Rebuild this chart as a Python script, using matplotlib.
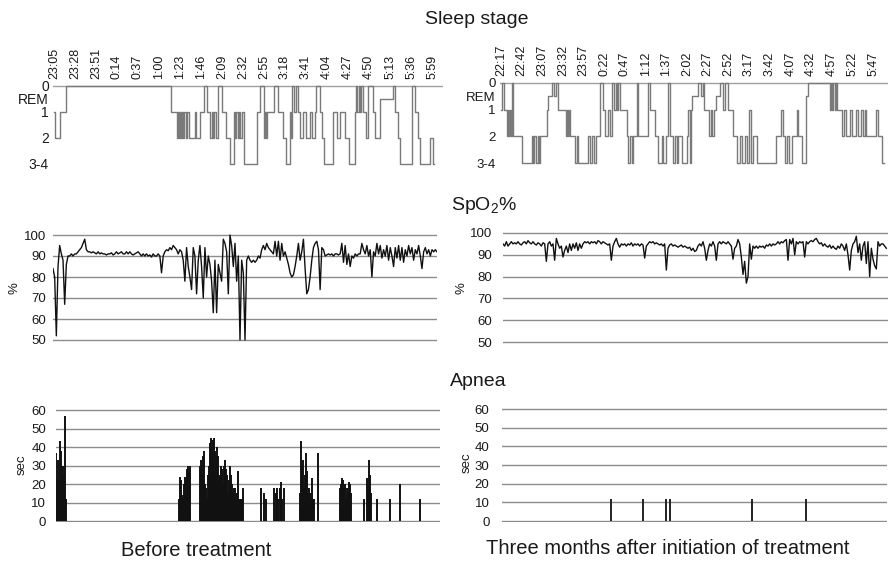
import numpy as np
import matplotlib
matplotlib.use('Agg')
import matplotlib.pyplot as plt

plt.rcParams['font.family'] = ['Liberation Sans', 'DejaVu Sans']
plt.rcParams['mathtext.fontset'] = 'custom'
plt.rcParams['mathtext.rm'] = 'Liberation Sans'
plt.rcParams['mathtext.default'] = 'regular'
plt.rcParams['text.color'] = '#1a1a1a'
plt.rcParams['xtick.color'] = '#1a1a1a'
plt.rcParams['ytick.color'] = '#1a1a1a'

# ---- data -----------------------------------------------------------------
# sleep stage codes: 0 = awake, 0.5 = REM, 1, 2, 3 = stage 3-4
stage_pos = [0, 0.5, 1, 2, 3]
stage_labels = ['0', 'REM', '1', '2', '3-4']

# before treatment (minutes after 23:05)
labels_before = ['23:05', '23:28', '23:51', '0:14', '0:37', '1:00', '1:23', '1:46', '2:09', '2:32',
                 '2:55', '3:18', '3:41', '4:04', '4:27', '4:50', '5:13', '5:36', '5:59']
sleep_before_t = [0, 1.4, 6.9, 13.1, 128.5, 134.3, 135.4, 136.5, 137.6, 138.7,
                  139.8, 140.8, 142.3, 144.5, 146, 147.4, 154, 155.4, 159.4, 164.1,
                  167.8, 171.4, 172.9, 174.3, 175.8, 177.2, 179.4, 184.2, 188.9, 193.3,
                  196.9, 198.4, 199.8, 201.3, 202.7, 204.2, 205.6, 208.5, 222.4, 226,
                  229.7, 230.4, 231.5, 232.6, 233.7, 241.3, 245, 250.8, 254.4, 258.1,
                  259.5, 261, 263.1, 264.6, 267.5, 269.7, 272.6, 275.5, 279.9, 282.4,
                  285.7, 287.2, 290.8, 293.7, 295.2, 305.4, 309.7, 313.4, 319.2, 323.6,
                  329.4, 330.9, 332.3, 333.8, 335.2, 336.7, 338.9, 341.8, 344.3, 349.1,
                  351.6, 357.1, 371.6, 373.4, 377.1, 378.9, 391.6, 395.3, 398.9, 400.7,
                  411.7, 414.6, 416]
sleep_before = [1, 2, 1, 0, 1, 2, 1, 2, 1, 2,
                1, 2, 1, 2, 1, 2, 1, 2, 1, 0,
                1, 2, 1, 2, 1, 2, 0, 1, 2, 3,
                1, 2, 1, 2, 1, 2, 1, 3, 1, 0,
                1, 2, 1, 2, 1, 0, 1, 2, 3, 1,
                2, 0, 1, 0, 1, 2, 1, 2, 1, 2,
                1, 0, 1, 2, 3, 1, 2, 1, 2, 3,
                1, 0, 1, 0, 1, 0, 1, 2, 0, 1,
                2, 0.5, 0, 1, 2, 3, 0, 1, 2, 3,
                2, 3, 3]

# three months after (minutes after 22:17)
labels_after = ['22:17', '22:42', '23:07', '23:32', '23:57', '0:22', '0:47', '1:12', '1:37', '2:02',
                '2:27', '2:52', '3:17', '3:42', '4:07', '4:32', '4:57', '5:22', '5:47']
sleep_after_t = [0, 1, 4.4, 7.2, 8.5, 9.7, 10.9, 12.1, 13.7, 15.3,
                 25.4, 37.4, 39, 40.7, 42.3, 44.7, 46.3, 47.9, 55.5, 57.6,
                 61.6, 64.8, 66.8, 68.8, 78.5, 79.7, 80.9, 82.1, 83.3, 89.8,
                 92.2, 93.8, 105.9, 107.9, 109.9, 112.7, 114.7, 119.9, 124, 126,
                 130, 132, 134, 137.3, 138.9, 140.5, 141.7, 144.1, 152.1, 154.2,
                 155.8, 158.2, 159.8, 164.2, 166.2, 178.3, 180.7, 186.4, 190.4, 194.4,
                 196.4, 199.2, 202.5, 204.9, 208.5, 210.5, 212.5, 214.5, 218.6, 224.6,
                 226.6, 228.2, 229.8, 230.6, 238.7, 241.5, 243.9, 245.5, 252, 253.6,
                 255.2, 257.6, 260, 264.8, 268.9, 270.9, 274.9, 280.9, 285, 289,
                 291, 295, 297.9, 299.5, 301.9, 304.3, 309.1, 332.5, 338.1, 340.5,
                 343.7, 346.2, 348.6, 351.4, 357.4, 359.8, 363.5, 368.7, 371.5, 397.7,
                 398.9, 400.5, 402.1, 403.7, 404.9, 406.5, 413, 414.6, 417, 421.8,
                 424.2, 429.9, 432.3, 435.9, 437.9, 439.9, 442, 454, 456.1, 461.3,
                 462.9]
sleep_after = [1, 0, 1, 2, 1, 2, 1, 2, 0, 2,
               3, 2, 3, 2, 3, 2, 3, 2, 1, 0.5,
               0, 0.5, 0, 1, 2, 1, 2, 1, 2, 3,
               2, 3, 2, 3, 2, 3, 2, 0, 1, 2,
               1, 2, 0, 1, 0, 1, 0, 1, 2, 3,
               2, 3, 2, 0, 2, 0, 1, 2, 3, 2,
               3, 2, 0, 2, 3, 2, 3, 2, 3, 2,
               1, 3, 1, 0.5, 0, 0.5, 0, 1, 2, 1,
               2, 1, 0.5, 0, 1, 0, 1, 2, 3, 2,
               3, 2, 3, 1, 3, 2, 3, 2, 1, 2,
               3, 2, 3, 2, 1, 2, 3, 0.5, 0, 1,
               0, 1, 0, 1, 0, 1, 2, 1, 2, 1,
               2, 1, 2, 1, 2, 1, 2, 1, 2, 3,
               3]

# SpO2 (%), evenly sampled through the night
spo2_before = [84, 80, 52, 85, 95, 91, 88, 67, 86, 90,
               90, 91, 90, 91, 91, 92, 93, 94, 96, 98,
               93, 92, 92, 91.5, 92, 91.5, 91, 92, 91, 91.5,
               91, 91, 90.5, 91, 91, 91.5, 90.5, 91, 92, 91,
               91.5, 92, 91, 91, 92, 91, 92, 91, 90.5, 91,
               91.5, 92, 91, 90, 91, 90, 91, 90, 90.5, 89.5,
               91, 90, 90, 91, 90, 82, 90, 92, 93, 92.5,
               94, 93, 95, 94, 93, 91, 93, 92, 88, 78,
               94, 85, 80, 74, 94, 90, 72, 88, 95, 85,
               70, 94, 80, 90, 86, 78, 63, 88, 63, 86,
               82, 78, 98, 96, 92, 72, 100, 95, 85, 96,
               78, 90, 50, 88, 82, 50, 88, 90, 88, 87,
               88, 87, 88, 90, 89, 93, 95, 93, 96, 94,
               93, 92, 91, 97, 90, 97, 88, 96, 90, 92,
               89, 86, 82, 80, 81, 85, 90, 96, 88, 92,
               98, 84, 72, 74, 80, 88, 94, 96, 97, 93,
               74, 94, 93, 90, 90.5, 91, 90.5, 91, 90, 91,
               91, 90.5, 91, 96, 87, 95, 86, 91, 85, 90,
               89, 91, 90, 91, 91, 96, 93, 91, 95, 90,
               93, 80, 92, 90, 96, 91, 95, 89, 93, 90,
               95, 88, 94, 90, 85, 94, 89, 95, 88, 94,
               87, 93, 90, 95, 91, 94, 88, 93, 91, 95,
               90, 84, 92, 94, 91, 93, 90, 93, 92, 93,
               92]
spo2_after = [95, 94, 96, 94, 95, 96, 95, 95.5, 95, 96,
              95, 94.5, 95.5, 96, 95, 96.5, 95.5, 95, 96, 95,
              94.5, 95.5, 95, 94, 95.5, 95, 87, 95, 96, 94,
              95, 87.5, 97.5, 95, 93, 94, 89, 92, 94, 91,
              95, 92, 95, 93, 95.5, 92, 95, 93, 95, 96,
              95.5, 96, 95, 96, 95.5, 96, 95, 96.5, 96, 95,
              96, 95.5, 95, 94.5, 95, 87.5, 94, 96, 97.5, 95,
              93.5, 95, 94.5, 95, 94, 95, 94.5, 95.5, 94, 95,
              94.5, 95, 94, 95, 94.5, 88.5, 94, 95, 96, 95.5,
              96, 95, 95.5, 95, 94.5, 95, 94, 95, 83, 93,
              94.5, 95, 94, 94.5, 94, 93.5, 94, 94.5, 93.5, 94,
              93.5, 93, 93.5, 92, 93, 91.5, 92, 94, 95, 94,
              96, 93, 87.5, 92, 95, 94, 96, 94, 87.5, 95,
              96, 95, 96, 95.5, 95, 96, 95, 94, 88, 93,
              94, 97, 95, 89, 81, 87, 77, 80, 95, 88,
              94, 93, 94, 93, 94, 93.5, 94, 93, 94.5, 94,
              95, 94, 95, 94.5, 95, 96, 95, 96, 95.5, 96.5,
              97, 87.5, 97, 95, 97.5, 90, 96, 95, 96, 95.5,
              96, 89, 96, 95, 96, 96.5, 96, 97, 97.5, 96,
              95, 95.5, 94, 95, 94, 93.5, 94.5, 93, 94, 93,
              92.5, 94, 93, 95, 94, 92, 95, 90, 83, 92,
              95, 96, 98.5, 91, 95, 87.5, 94, 96, 86, 96,
              80, 93, 88, 85, 83.5, 96, 94, 95, 95, 94,
              93]

# apnea events: time (min) and duration (sec)
apnea_before_t = [0, 1.1, 2.2, 3.3, 4.4, 5.5, 6.6, 7.6, 8.7, 9.8, 10.9,
                  133.6, 134.7, 135.8, 136.9, 138, 139, 140.1, 141.2, 142.3, 143.4, 144.5, 145.6,
                  157.2, 158.3, 159.4, 160.5, 161.6, 162.7, 163.8, 164.8, 165.9, 167.0,
                  168.1, 169.2, 170.3, 171.4, 172.5, 173.6, 174.7, 175.8, 176.9, 178.0,
                  179.0, 180.1, 181.2, 182.3, 183.4, 184.5, 185.6, 186.7, 187.8, 188.9,
                  190.0, 191.1, 192.2, 193.2, 194.3, 195.4, 196.5, 197.6, 198.7, 199.8,
                  200.9, 202.0, 203.1, 204.2,
                  223.9, 227.1, 229,
                  238.1, 239.5, 240.9, 242.4, 243.9, 245.3, 246.8, 248.2,
                  266.4, 267.5, 268.6, 269.7, 270.8, 271.9, 273, 274.1, 275.2, 276.3,
                  277.4, 278.5, 279.6, 280.7, 281.7, 285.4,
                  310.1, 311.2, 312.3, 313.4, 314.5, 315.6, 316.7, 317.8, 318.9, 320, 321, 322.1,
                  335.6, 339.2, 340.3, 341.4, 342.5, 343.6, 350.2, 364.7, 374.9, 396.8]
apnea_before = [37, 22, 33, 22, 43, 38, 30, 25, 30, 57, 12,
                12, 24, 22, 14, 12, 20, 24, 22, 28, 30, 26, 30,
                30, 33, 25, 35, 38, 20, 18, 12, 25, 30,
                42, 45, 38, 44, 45, 38, 35, 40, 35, 22,
                25, 30, 28, 20, 30, 33, 28, 25, 15, 22,
                30, 25, 20, 15, 18, 18, 12, 15, 27, 12,
                12, 12, 12, 18,
                18, 15, 12,
                18, 15, 18, 12, 18, 21, 12, 18,
                15, 43, 30, 33, 18, 25, 37, 27, 15, 18,
                15, 12, 23, 12, 12, 37,
                18, 20, 23, 22, 18, 20, 12, 18, 15, 21, 20, 15,
                12, 23, 20, 33, 25, 15, 12, 12, 20, 12]
apnea_after_t = [132.8, 171.9, 199.2, 204.1, 303.9, 369.5]
apnea_after = [12, 12, 12, 12, 12, 12]

# ---- figure ---------------------------------------------------------------
fig = plt.figure(figsize=(8.89, 5.61), dpi=100)
W, H = 889.0, 561.0


def box(x0, y0, x1, y1):
    # pixel box (top-left origin) -> figure fraction
    return [x0 / W, 1 - y1 / H, (x1 - x0) / W, (y1 - y0) / H]


def px_text(x, y, s, **kw):
    fig.text(x / W, 1 - y / H, s, **kw)


grid_col = '#8c8c8c'
hyp_col = '#7a7a7a'


def hypnogram(ax, t, s, labels, step, xmax, fs_y, pad_x):
    ax.step(t, s, where='post', color=hyp_col, lw=1.0)
    ax.axhline(0, color='#a0a0a0', lw=1.0, zorder=0)
    ax.set_ylim(3.1, -0.1)
    ax.set_xlim(-1, xmax)
    ax.set_yticks(stage_pos)
    ax.set_yticklabels(stage_labels, fontsize=fs_y)
    ax.set_xticks(np.arange(len(labels)) * step)
    ax.set_xticklabels(labels, rotation=90, fontsize=9)
    ax.xaxis.tick_top()
    ax.tick_params(axis='x', length=0, pad=pad_x)
    ax.tick_params(axis='y', length=0, pad=3)
    for sp in ax.spines.values():
        sp.set_visible(False)


def gridded(ax, ticks, ylim, pad):
    ax.set_yticks(ticks)
    ax.set_ylim(*ylim)
    ax.grid(axis='y', color=grid_col, lw=1.0)
    ax.set_axisbelow(True)
    ax.set_xticks([])
    ax.tick_params(axis='y', length=0, pad=pad, labelsize=9.5)
    for sp in ax.spines.values():
        sp.set_visible(False)


# sleep stage
ax1 = fig.add_axes(box(53, 83.4, 443, 166.6))
hypnogram(ax1, sleep_before_t, sleep_before, labels_before, 23, 426, 10, 3)
ax2 = fig.add_axes(box(500, 80.3, 888, 165.7))
hypnogram(ax2, sleep_after_t, sleep_after, labels_after, 25, 468, 9.5, 3)

# SpO2
ax3 = fig.add_axes(box(53, 232.9, 437, 344.2))
ax3.plot(np.arange(len(spo2_before)), spo2_before, color='#111111', lw=1.0)
ax3.set_xlim(0, len(spo2_before) - 1)
gridded(ax3, [50, 60, 70, 80, 90, 100], (48, 101), 5)

ax4 = fig.add_axes(box(503, 230.8, 888, 346.4))
ax4.plot(np.arange(len(spo2_after)), spo2_after, color='#111111', lw=1.0)
ax4.set_xlim(0, len(spo2_after))
gridded(ax4, [50, 60, 70, 80, 90, 100], (48, 101), 8)

# apnea
ax5 = fig.add_axes(box(56, 408.2, 440, 521.6))
ax5.vlines(apnea_before_t, 0, apnea_before, color='#111111', lw=1.4)
ax5.set_xlim(-0.5, 419)
gridded(ax5, [0, 10, 20, 30, 40, 50, 60], (-0.3, 61), 7)

ax6 = fig.add_axes(box(502, 407.2, 887, 521.6))
ax6.vlines(apnea_after_t, 0, apnea_after, color='#222222', lw=1.4)
ax6.set_xlim(0, 468)
gridded(ax6, [0, 10, 20, 30, 40, 50, 60], (-0.3, 61), 9)

# axis unit labels
px_text(14, 288, '%', rotation=90, ha='center', va='center', fontsize=9.5)
px_text(462, 288, '%', rotation=90, ha='center', va='center', fontsize=9.5)
px_text(22, 465, 'sec', rotation=90, ha='center', va='center', fontsize=9.5)
px_text(467, 463, 'sec', rotation=90, ha='center', va='center', fontsize=9.5)

# titles
px_text(477, 19, 'Sleep stage', ha='center', va='center', fontsize=14)
px_text(451, 205, 'SpO$_2$%', ha='left', va='center', fontsize=14)
px_text(450, 382, 'Apnea', ha='left', va='center', fontsize=14)
px_text(196, 550, 'Before treatment', ha='center', va='center', fontsize=14.5)
px_text(668, 549, 'Three months after initiation of treatment', ha='center', va='center', fontsize=14.5)

fig.savefig('out.png', dpi=100)
